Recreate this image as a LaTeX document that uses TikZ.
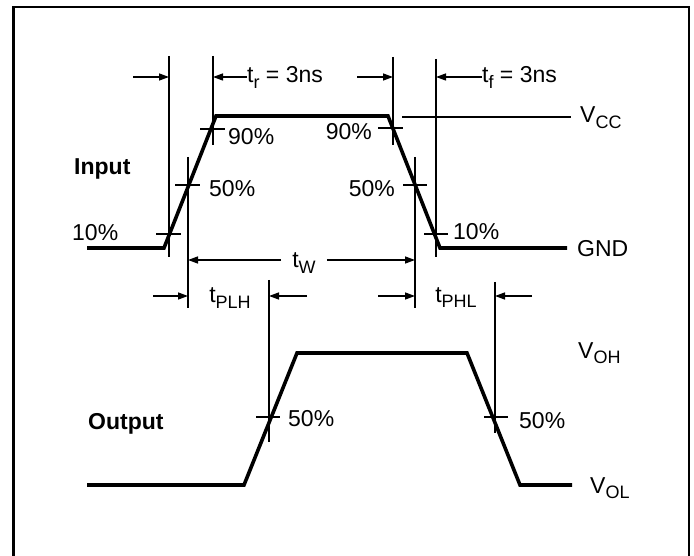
\documentclass[tikz,border=0pt]{standalone}
\usepackage{fontspec}
\setmainfont{Liberation Sans}
\usepackage{tikz}
\usetikzlibrary{arrows.meta,positioning,calc}
\newcommand{\lowsub}[1]{\raisebox{-0.26em}{\fontsize{18}{18}\selectfont #1}}

\begin{document}
\begin{tikzpicture}[x=1pt, y=-1pt,
    wave/.style={line width=3.6pt, line join=miter},
    guide/.style={line width=1.3pt},
    dim/.style={line width=1.3pt, -{Triangle[length=10pt,width=7pt]}},
    lbl/.style={inner sep=0pt, font=\fontsize{23}{27}\selectfont},
    title/.style={lbl, font=\fontsize{23}{27}\selectfont\bfseries}]
            \useasboundingbox (0,0) rectangle (694,556);
            \draw[line width=2.4pt] (13.5,556) -- (13.5,7) -- (689,7) -- (689,556);

            \coordinate (i0) at (87,248);  \coordinate (i1) at (164,248);
            \coordinate (i2) at (216,116); \coordinate (i3) at (388,116);
            \coordinate (i4) at (440,248); \coordinate (i5) at (567,248);
            \coordinate (o0) at (87,485);  \coordinate (o1) at (244,485);
            \coordinate (o2) at (297,353); \coordinate (o3) at (467,353);
            \coordinate (o4) at (520,485); \coordinate (o5) at (572,485);
            \draw[wave] (i0) -- (i1) -- (i2) -- (i3) -- (i4) -- (i5);
            \draw[wave] (o0) -- (o1) -- (o2) -- (o3) -- (o4) -- (o5);

            \draw[guide] (169,56) coordinate (r10) -- (169,257);
            \draw[guide] (213,56) coordinate (r90) -- (213,145);
            \draw[guide] (393,57) coordinate (f90) -- (393,145);
            \draw[guide] (436,59) coordinate (f10) -- (436,257);
            \draw[guide] (188,157) coordinate (r50) -- (188,308);
            \draw[guide] (415,157) coordinate (f50) -- (415,308);
            \draw[guide] (269,280) coordinate (or50) -- (269,442);
            \draw[guide] (495,282) coordinate (of50) -- (495,433);
            \draw[guide] (156,234) -- (181,234);
            \draw[guide] (200,129) -- (225,129);
            \draw[guide] (175,185) -- (200,185);
            \draw[guide] (378,128) -- (403,128);
            \draw[guide] (403,185) -- (427,185);
            \draw[guide] (424,234) -- (448,234);
            \draw[guide] (256,417) -- (280,417);
            \draw[guide] (484,417) -- (508,417);
            \draw[guide] (402,117) -- (571,117);

            \node[lbl, anchor=base west] (tr) at (247,83) {t\lowsub{r} = 3ns};
            \node[lbl, anchor=base west] (tf) at (482,83) {t\lowsub{f} = 3ns};
            \draw[dim] (133,77) coordinate (a1) -- (r10 |- a1);
            \draw[dim] (tr.west |- a1) -- (r90 |- a1);
            \draw[dim] (357,77) coordinate (a2) -- (f90 |- a2);
            \draw[dim] (tf.west |- a2) -- (f10 |- a2);

            \node[lbl, anchor=base, inner xsep=11pt] (tw) at (304,268) {t\lowsub{W}};
            \draw[dim] (tw.west |- 0,260) -- (r50 |- 0,260);
            \draw[dim] (tw.east |- 0,260) -- (f50 |- 0,260);

            \node[lbl, anchor=base] (tplh) at (230,303) {t\lowsub{PLH}};
            \node[lbl, anchor=base] (tphl) at (456,302) {t\lowsub{PHL}};
            \draw[dim] (153,296) coordinate (a3) -- (r50 |- a3);
            \draw[dim] (307,296) coordinate (a4) -- (or50 |- a4);
            \draw[dim] (378,296) coordinate (a5) -- (f50 |- a5);
            \draw[dim] (532,296) coordinate (a6) -- (of50 |- a6);

            \node[title, anchor=base west] (input) at (74,175) {Input};
            \node[title, anchor=base west] (output) at (88,429) {Output};
            \node[lbl, anchor=base west] (p10r) at (72,241) {10\%};
            \node[lbl, anchor=base west] (p90r) at (228,145) {90\%};
            \node[lbl, anchor=base west] (p50r) at (209,197) {50\%};
            \node[lbl, anchor=base east] (p90f) at (372,140) {90\%};
            \node[lbl, anchor=base east] (p50f) at (395,197) {50\%};
            \node[lbl, anchor=base west] (p10f) at (453,240) {10\%};
            \node[lbl, anchor=base west] (p50or) at (288,426) {50\%};
            \node[lbl, anchor=base west] (p50of) at (519,428) {50\%};
            \node[lbl, anchor=base west] (vcc) at (580,123) {V\lowsub{CC}};
            \node[lbl, anchor=base west] (gnd) at (577,257) {GND};
            \node[lbl, anchor=base west] (voh) at (578,358) {V\lowsub{OH}};
            \node[lbl, anchor=base west] (vol) at (590,493) {V\lowsub{OL}};
        \end{tikzpicture}
\end{document}
